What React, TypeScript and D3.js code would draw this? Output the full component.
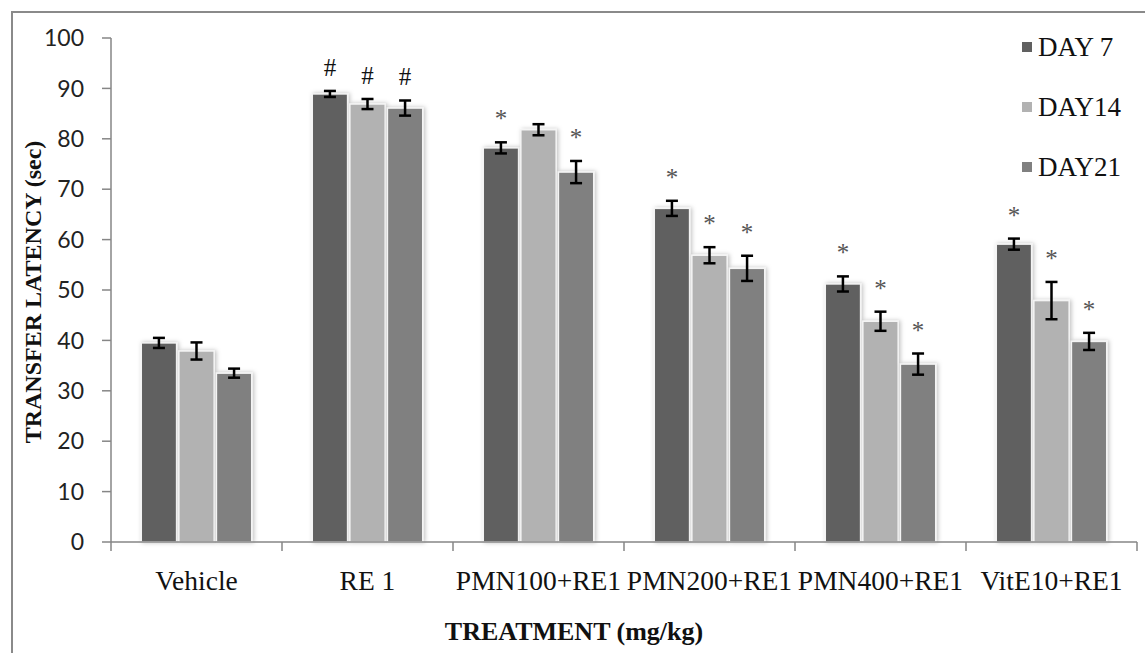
import React, { useEffect, useRef } from 'react';
import * as d3 from 'd3';

const categories = ['Vehicle', 'RE 1', 'PMN100+RE1', 'PMN200+RE1', 'PMN400+RE1', 'VitE10+RE1'];
const seriesNames = ['DAY 7', 'DAY14', 'DAY21'];
const seriesColors = ['#606060', '#b2b2b2', '#808080'];

const day7 = [39.5, 88.9, 78.2, 66.2, 51.2, 59.1];
const day14 = [37.9, 86.9, 81.8, 56.9, 43.8, 47.9];
const day21 = [33.5, 86.1, 73.4, 54.3, 35.3, 39.8];

const err7 = [1.0, 0.6, 1.1, 1.5, 1.5, 1.1];
const err14 = [1.7, 1.0, 1.1, 1.6, 1.9, 3.7];
const err21 = [0.9, 1.5, 2.2, 2.5, 2.1, 1.7];

const marks7 = ['', '#', '*', '*', '*', '*'];
const marks14 = ['', '#', '', '*', '*', '*'];
const marks21 = ['', '#', '*', '*', '*', '*'];

const yTicks = [0, 10, 20, 30, 40, 50, 60, 70, 80, 90, 100];

const W = 1145;
const H = 653;

const App = () => {
  const svgRef = useRef(null);

  useEffect(() => {
    const svg = d3.select(svgRef.current);
    svg.selectAll('*').remove();

    const serif = '"Liberation Serif", "Times New Roman", serif';
    const axisColor = '#868686';

    const defs = svg.append('defs');
    const filter = defs.append('filter')
      .attr('id', 'shadow')
      .attr('x', '-30%').attr('y', '-10%')
      .attr('width', '160%').attr('height', '120%');
    filter.append('feDropShadow')
      .attr('dx', 1.5).attr('dy', 0)
      .attr('stdDeviation', 2)
      .attr('flood-color', '#000')
      .attr('flood-opacity', 0.25);

    svg.append('rect')
      .attr('width', W).attr('height', H)
      .attr('fill', '#fff');

    // outer chart border (cropped on right/bottom)
    svg.append('rect')
      .attr('x', 12).attr('y', 12)
      .attr('width', W + 20).attr('height', H + 20)
      .attr('fill', 'none')
      .attr('stroke', '#8a8a8a')
      .attr('stroke-width', 2);

    const left = 111, right = 1137, top = 38, bottom = 542;

    const x = d3.scaleBand()
      .domain(categories)
      .range([left, right])
      .paddingInner(0.354)
      .paddingOuter(0.177);

    const xs = d3.scaleBand()
      .domain(seriesNames)
      .range([0, x.bandwidth()])
      .paddingInner(0.06);

    const y = d3.scaleLinear()
      .domain([0, 100])
      .range([bottom, top]);

    const series = [
      { name: seriesNames[0], values: day7, errs: err7, marks: marks7, color: seriesColors[0] },
      { name: seriesNames[1], values: day14, errs: err14, marks: marks14, color: seriesColors[1] },
      { name: seriesNames[2], values: day21, errs: err21, marks: marks21, color: seriesColors[2] },
    ];

    // y axis
    svg.append('line')
      .attr('x1', left).attr('x2', left)
      .attr('y1', top).attr('y2', bottom)
      .attr('stroke', axisColor).attr('stroke-width', 1.5);

    svg.selectAll('.ytick')
      .data(yTicks)
      .enter().append('line')
      .attr('x1', left - 9).attr('x2', left)
      .attr('y1', d => y(d)).attr('y2', d => y(d))
      .attr('stroke', axisColor).attr('stroke-width', 1.5);

    svg.selectAll('.ylabel')
      .data(yTicks)
      .enter().append('text')
      .attr('x', 84)
      .attr('y', d => y(d))
      .attr('dy', '0.36em')
      .attr('text-anchor', 'end')
      .style('font-family', 'Lato, "Open Sans", sans-serif')
      .style('font-size', '23px')
      .attr('fill', '#222')
      .text(d => d);

    // bars
    series.forEach(s => {
      const g = svg.append('g');
      g.selectAll('rect')
        .data(categories)
        .enter().append('rect')
        .attr('x', c => x(c) + xs(s.name))
        .attr('y', (c, i) => y(s.values[i]))
        .attr('width', xs.bandwidth())
        .attr('height', (c, i) => bottom - y(s.values[i]))
        .attr('fill', s.color)
        .attr('stroke', '#f4f4f4')
        .attr('stroke-width', 1.5)
        .attr('filter', 'url(#shadow)');
    });

    // error bars and significance marks
    series.forEach(s => {
      categories.forEach((c, i) => {
        const cx = x(c) + xs(s.name) + xs.bandwidth() / 2;
        const hi = y(s.values[i] + s.errs[i]);
        const lo = y(s.values[i] - s.errs[i]);
        const g = svg.append('g')
          .attr('stroke', '#000')
          .attr('stroke-width', 2.5);
        g.append('line').attr('x1', cx).attr('x2', cx).attr('y1', hi).attr('y2', lo);
        g.append('line').attr('x1', cx - 6).attr('x2', cx + 6).attr('y1', hi).attr('y2', hi);
        g.append('line').attr('x1', cx - 6).attr('x2', cx + 6).attr('y1', lo).attr('y2', lo);

        if (s.marks[i]) {
          svg.append('text')
            .attr('x', cx)
            .attr('y', hi - 15)
            .attr('text-anchor', 'middle')
            .style('font-family', serif)
            .style('font-size', '25px')
            .attr('fill', s.marks[i] === '#' ? '#111' : '#555')
            .text(s.marks[i]);
        }
      });
    });

    // x axis
    svg.append('line')
      .attr('x1', left).attr('x2', right)
      .attr('y1', bottom).attr('y2', bottom)
      .attr('stroke', axisColor).attr('stroke-width', 1.5);

    const boundaries = categories.map(c => x(c) - x.step() * 0.177).concat([right]);
    svg.selectAll('.xtick')
      .data(boundaries)
      .enter().append('line')
      .attr('x1', d => d).attr('x2', d => d)
      .attr('y1', bottom).attr('y2', bottom + 9)
      .attr('stroke', axisColor).attr('stroke-width', 1.5);

    svg.selectAll('.xlabel')
      .data(categories)
      .enter().append('text')
      .attr('x', c => x(c) + x.bandwidth() / 2)
      .attr('y', 590)
      .attr('text-anchor', 'middle')
      .style('font-family', serif)
      .style('font-size', '27.5px')
      .attr('fill', '#111')
      .text(c => c);

    // axis titles
    svg.append('text')
      .attr('x', 574)
      .attr('y', 640)
      .attr('text-anchor', 'middle')
      .style('font-family', serif)
      .style('font-size', '26px')
      .style('font-weight', 'bold')
      .attr('fill', '#111')
      .text('TREATMENT (mg/kg)');

    svg.append('text')
      .attr('transform', 'translate(41,292) rotate(-90)')
      .attr('text-anchor', 'middle')
      .style('font-family', serif)
      .style('font-size', '24px')
      .style('font-weight', 'bold')
      .attr('fill', '#111')
      .text('TRANSFER LATENCY (sec)');

    // legend
    const legendY = [47, 107, 167];
    const leg = svg.selectAll('.legend')
      .data(series)
      .enter().append('g')
      .attr('transform', (d, i) => `translate(1022,${legendY[i]})`);

    leg.append('rect')
      .attr('x', 0).attr('y', -5)
      .attr('width', 10).attr('height', 10)
      .attr('fill', d => d.color);

    leg.append('text')
      .attr('x', 16)
      .attr('y', 0)
      .attr('dy', '0.35em')
      .style('font-family', serif)
      .style('font-size', '27px')
      .attr('fill', '#111')
      .text(d => d.name);
  }, []);

  return (
    <svg
      ref={svgRef}
      width={W}
      height={H}
      style={{ position: 'absolute', left: 0, top: 0 }}
    ></svg>
  );
};

export default App;
